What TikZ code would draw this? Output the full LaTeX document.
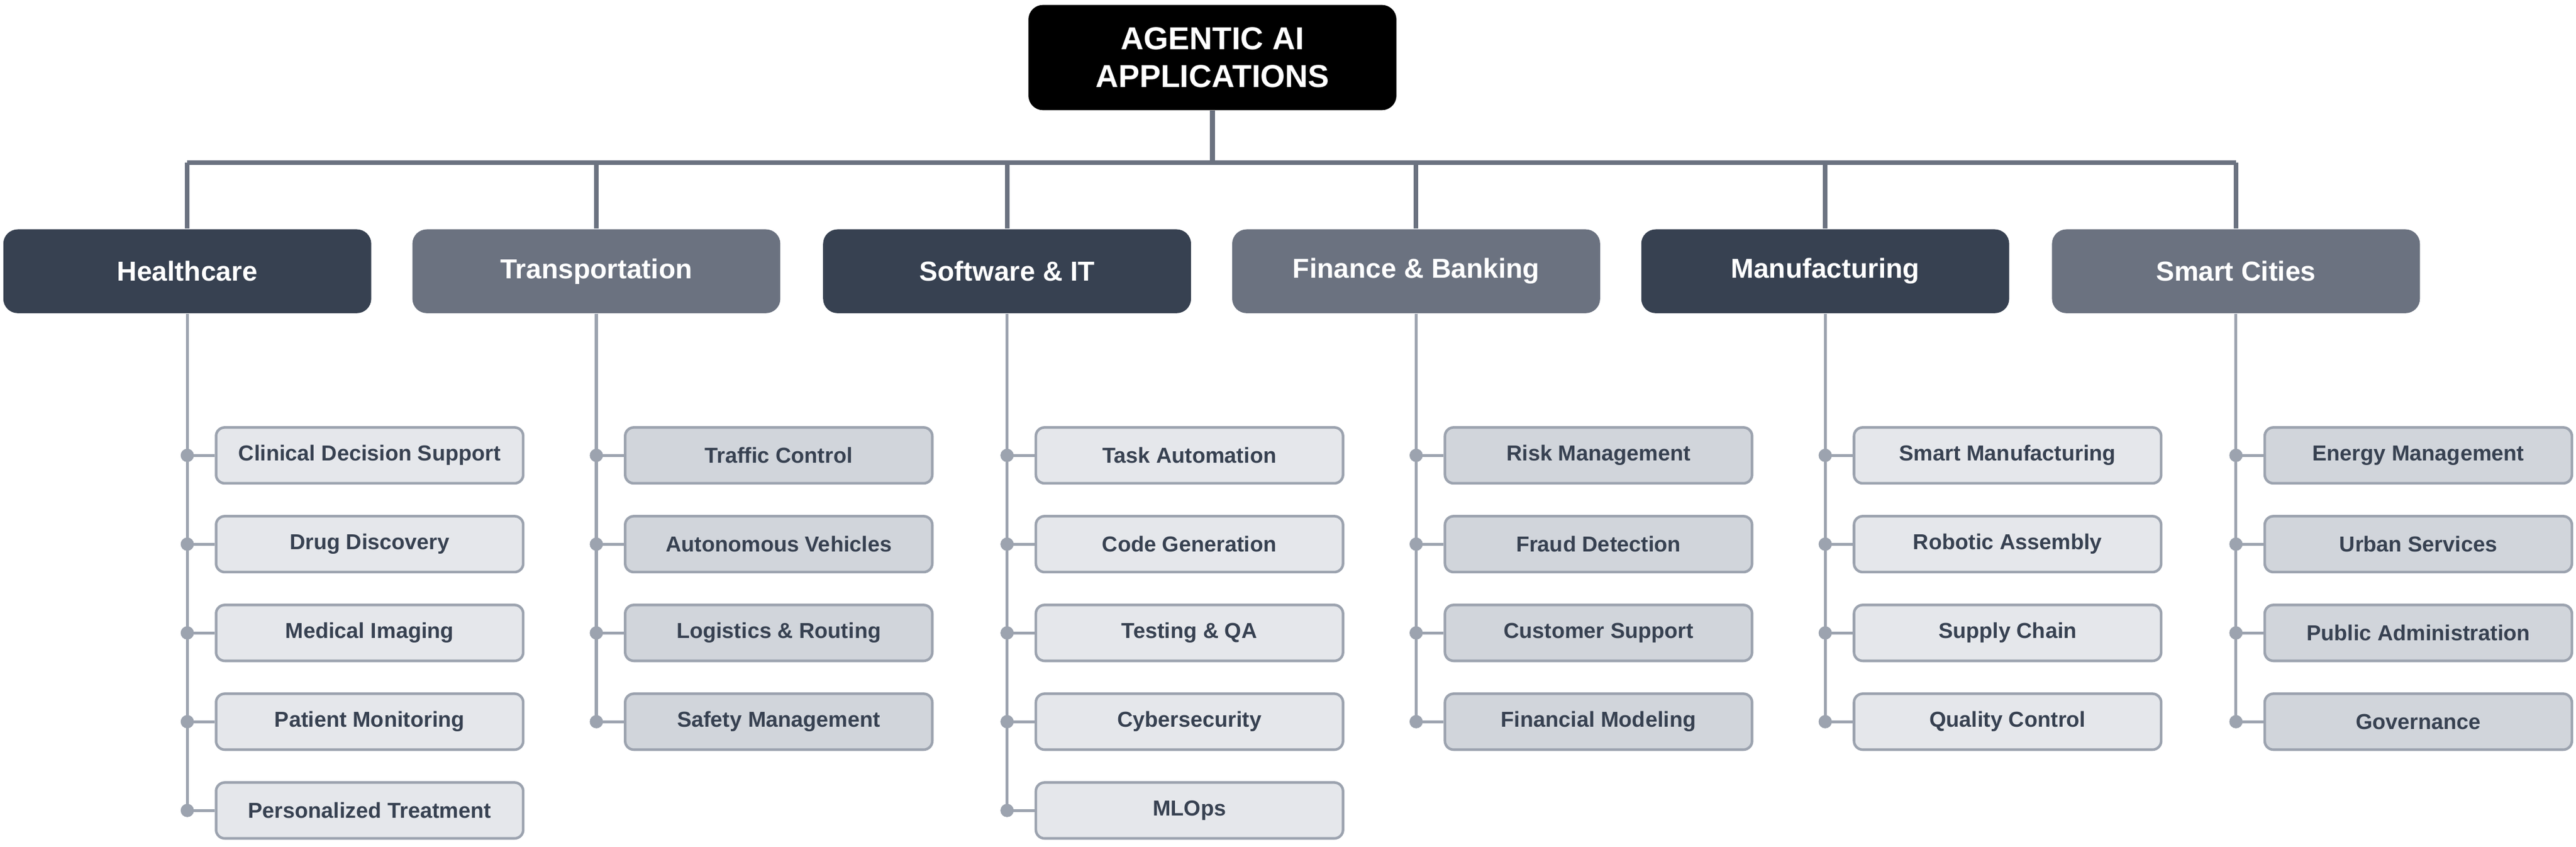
\documentclass[tikz,border=0pt]{standalone}
\usepackage{fontspec}
\setmainfont{Liberation Sans}
\usetikzlibrary{positioning}
\definecolor{DarkSlate}{HTML}{374151}
\definecolor{MidSlate}{HTML}{6B7280}
\definecolor{LineGray}{HTML}{9CA3AF}
\definecolor{PaleFill}{HTML}{E5E7EB}
\definecolor{GrayFill}{HTML}{D1D5DB}
\tikzset{
  rootbox/.style={fill=black,rounded corners=5pt,minimum width=4.48cm,minimum height=1.28cm,
    text=white,font=\bfseries\fontsize{11}{13}\selectfont,align=center},
  catbox/.style={fill=#1,rounded corners=5pt,minimum width=4.48cm,minimum height=1.02cm,
    text=white,font=\bfseries\fontsize{9.5}{11}\selectfont},
  kidbox/.style={fill=#1,draw=LineGray,line width=0.9pt,rounded corners=3pt,minimum width=3.74cm,
    minimum height=0.68cm,text=DarkSlate,font=\bfseries\fontsize{7.5}{9}\selectfont},
  bus/.style={MidSlate,line width=1.6pt},
  trunk/.style={LineGray,line width=1pt}
}
\begin{document}
\begin{tikzpicture}[x=0.02cm,y=-0.02cm]
  \useasboundingbox (0,0) rectangle (1568,515);
  \node[rootbox] (root) at (738,35) {AGENTIC AI\\APPLICATIONS};
  \coordinate (busL) at (114,99);
  \coordinate (busR) at (1361,99);
  \draw[bus] (root.south) -- (root.south |- busL);
  \draw[bus] (busL) -- (busR);
  \foreach \x/\name/\col/\kcol/\kids [count=\i] in {
      114/Healthcare/DarkSlate/PaleFill/{Clinical Decision Support,Drug Discovery,Medical Imaging,Patient Monitoring,Personalized Treatment},
      363/Transportation/MidSlate/GrayFill/{Traffic Control,Autonomous Vehicles,Logistics \& Routing,Safety Management},
      613/Software \& IT/DarkSlate/PaleFill/{Task Automation,Code Generation,Testing \& QA,Cybersecurity,MLOps},
      862/Finance \& Banking/MidSlate/GrayFill/{Risk Management,Fraud Detection,Customer Support,Financial Modeling},
      1111/Manufacturing/DarkSlate/PaleFill/{Smart Manufacturing,Robotic Assembly,Supply Chain,Quality Control},
      1361/Smart Cities/MidSlate/GrayFill/{Energy Management,Urban Services,Public Administration,Governance}} {
    \node[catbox=\col] (cat\i) at (\x,165) {\name};
    \draw[bus] (cat\i.north) -- (cat\i.north |- busL);
    \foreach \kid [count=\j] in \kids {
      \node[kidbox=\kcol] (kid-\i-\j) at (\x+111,223+54*\j) {\kid};
      \coordinate (dot-\i-\j) at (\x,223+54*\j);
      \draw[trunk] (dot-\i-\j) -- (kid-\i-\j.west);
      \fill[LineGray] (dot-\i-\j) circle (2.3pt);
      \xdef\lastkid{\j}
    }
    \draw[trunk] (cat\i.south) -- (dot-\i-\lastkid);
  }
\end{tikzpicture}
\end{document}
